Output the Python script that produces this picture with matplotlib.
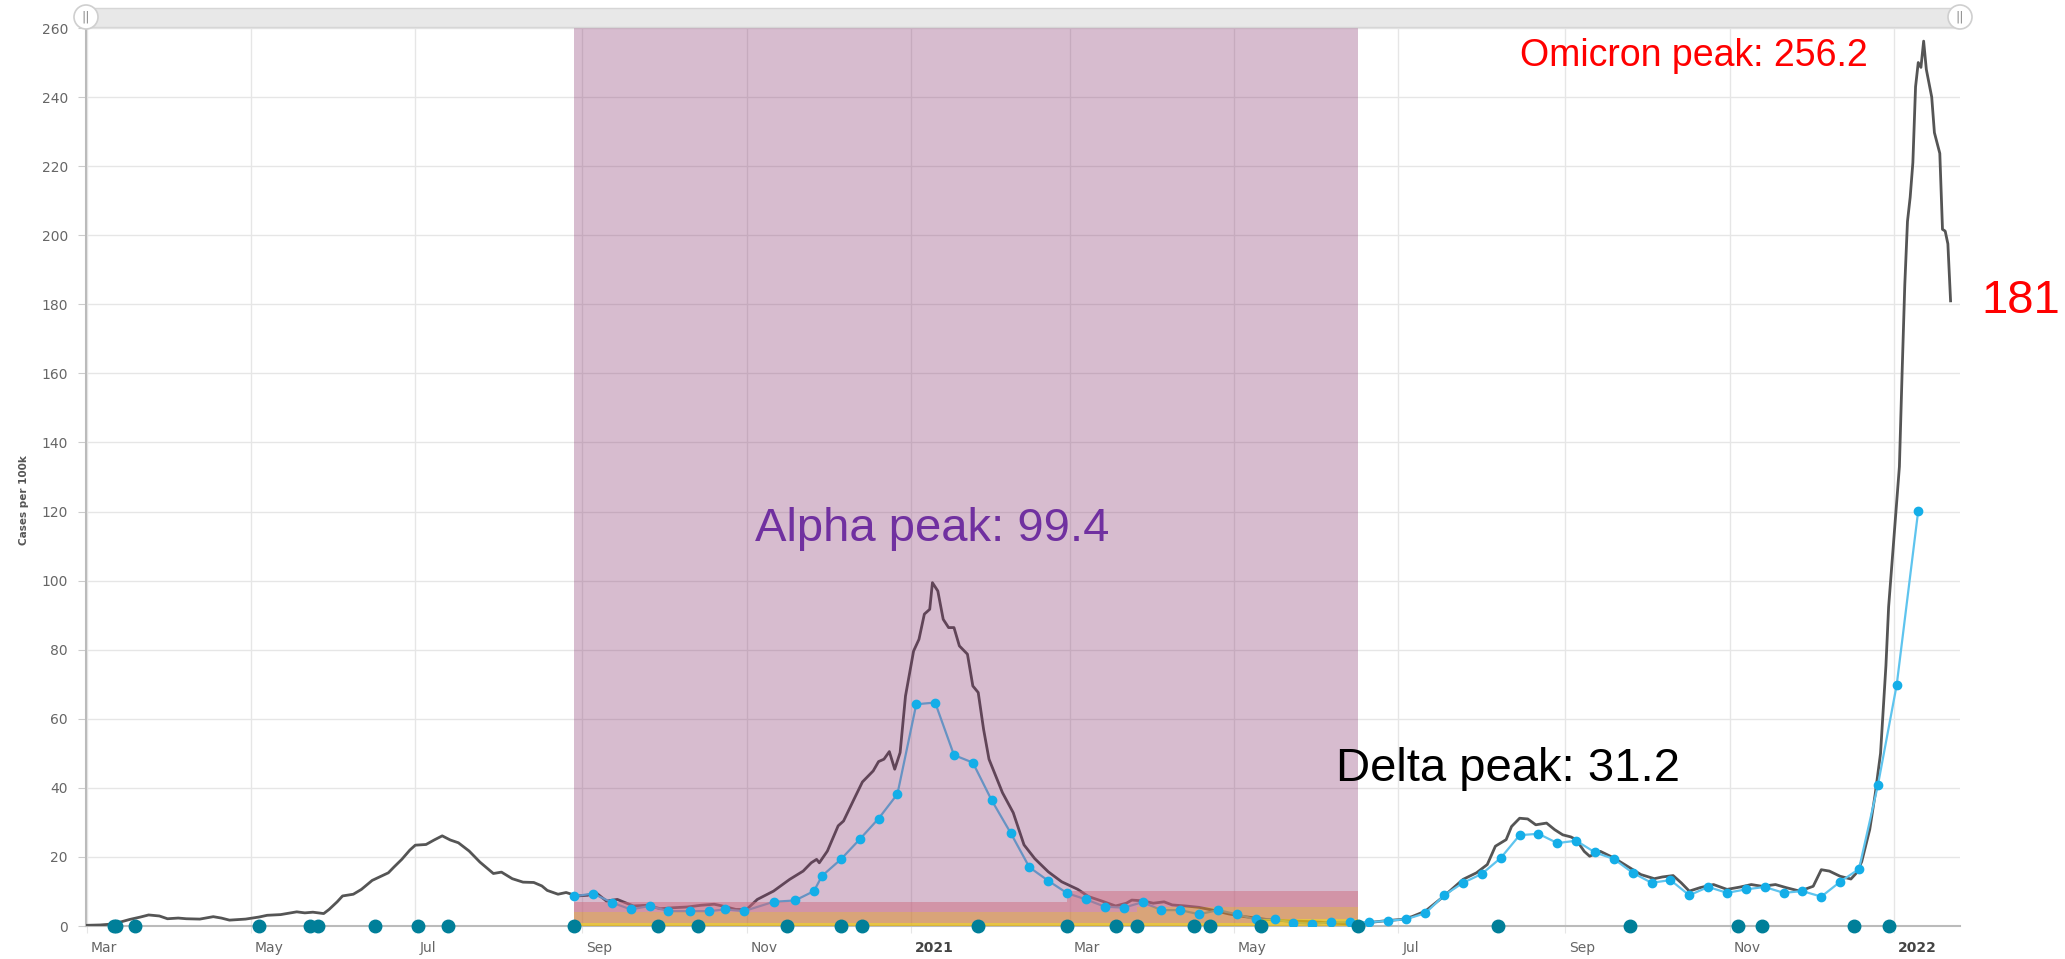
import numpy as np
import matplotlib
matplotlib.use("Agg")
import matplotlib.pyplot as plt
from matplotlib import font_manager
from matplotlib.patches import Rectangle, Circle
from matplotlib.transforms import ScaledTranslation

# day offsets are counted from 1 March 2020
base = np.datetime64("2020-03-01")

# 7-day average cases per 100k (dark line)
case_days = [0, 5, 10, 16, 20, 23, 27, 30, 34, 37, 42, 47, 50, 53, 59, 64, 67, 72, 78, 81,
             84, 88, 90, 93, 95, 99, 102, 106, 109, 112, 114, 117, 120, 122, 126, 129, 132, 135, 138, 142,
             146, 151, 154, 158, 162, 166, 169, 171, 175, 178, 182, 186, 189, 193, 197, 203, 208, 213, 218, 223,
             228, 233, 236, 241, 245, 249, 255, 261, 266, 269, 271, 272, 275, 279, 281, 285, 288, 292, 294, 296,
             298, 300, 302, 304, 307, 309, 311, 313, 314, 316, 318, 320, 322, 324, 327, 329, 331, 333, 335, 338,
             340, 344, 348, 352, 357, 362, 368, 372, 377, 382, 386, 388, 392, 396, 400, 403, 408, 413, 418, 424,
             430, 438, 445, 453, 460, 468, 472, 476, 482, 488, 492, 497, 504, 511, 516, 520, 523, 527, 529, 532,
             535, 538, 542, 545, 548, 551, 553, 556, 558, 562, 567, 572, 577, 582, 585, 589, 592, 595, 599, 604,
             609, 614, 618, 622, 627, 631, 636, 641, 644, 647, 651, 655, 657, 659, 662, 664, 666, 668, 669, 671,
             672, 673, 674, 675, 676, 677, 678, 679, 680, 681, 682, 683, 685, 686, 688, 689, 690, 691, 692]
case_vals = [0.2, 0.3, 0.6, 1.9, 2.6, 3.2, 2.9, 2.1, 2.3, 2.1, 2.0, 2.7, 2.3, 1.7, 2.0, 2.6, 3.1, 3.3, 4.1, 3.8,
             4.0, 3.6, 4.8, 7.0, 8.7, 9.2, 10.6, 13.2, 14.3, 15.4, 17.0, 19.3, 22.0, 23.4, 23.6, 24.9, 26.1, 24.9, 24.1, 21.7,
             18.5, 15.2, 15.6, 13.7, 12.7, 12.6, 11.6, 10.3, 9.2, 9.7, 8.7, 8.9, 9.7, 7.2, 7.7, 5.8, 6.0, 5.0, 5.3, 5.5,
             6.0, 6.3, 5.8, 4.8, 4.8, 7.7, 10.1, 13.5, 15.9, 18.3, 19.3, 18.3, 21.7, 29.0, 30.4, 36.9, 41.7, 44.9, 47.6, 48.3,
             50.5, 45.4, 50.2, 66.6, 79.6, 83.0, 90.3, 91.7, 99.4, 97.0, 88.8, 86.4, 86.4, 81.1, 78.7, 69.5, 67.6, 56.9, 48.3, 42.5,
             38.6, 32.8, 23.5, 19.5, 15.7, 12.8, 10.6, 8.5, 7.2, 5.8, 6.6, 7.5, 7.3, 6.6, 7.0, 6.1, 5.8, 5.4, 4.6, 3.5,
             2.7, 1.9, 1.5, 1.3, 1.0, 0.6, 0.6, 1.0, 1.5, 1.9, 2.7, 4.3, 8.7, 13.5, 15.4, 17.8, 23.1, 25.0, 28.8, 31.2,
             31.0, 29.3, 29.8, 27.9, 26.4, 25.8, 25.0, 21.6, 20.2, 21.6, 19.7, 17.3, 14.9, 13.7, 14.2, 14.6, 12.5, 10.1, 11.1, 12.0,
             10.6, 11.3, 12.0, 11.5, 12.0, 11.1, 10.1, 11.5, 16.3, 15.9, 14.4, 13.6, 15.3, 18.6, 28.0, 38.1, 50.0, 75.4, 92.4, 112.7,
             122.9, 133.0, 160.0, 185.6, 204.0, 211.0, 221.0, 243.0, 250.0, 248.6, 256.2, 248.0, 240.0, 229.7, 223.7, 201.7, 201.2, 197.5, 181.0]

# weekly series (blue line with dots)
week_days = [181, 188, 195, 202, 209, 216, 224, 231, 237, 244, 255, 263, 270, 273, 280, 287, 294, 301, 308, 315,
             322, 329, 336, 343, 350, 357, 364, 371, 378, 385, 392, 399, 406, 413, 420, 427, 434, 441, 448, 455,
             462, 469, 476, 483, 490, 497, 504, 511, 518, 525, 532, 539, 546, 553, 560, 567, 574, 581, 588, 595,
             602, 609, 616, 623, 630, 637, 644, 651, 658, 665, 672, 680]
week_vals = [8.6, 9.4, 6.8, 4.8, 5.8, 4.3, 4.3, 4.3, 4.8, 4.3, 7.0, 7.4, 10.1, 14.5, 19.3, 25.1, 31.1, 38.2, 64.2, 64.7,
             49.5, 47.3, 36.4, 27.0, 17.0, 13.1, 9.5, 7.7, 5.6, 5.3, 6.9, 4.6, 4.6, 3.4, 4.6, 3.4, 1.9, 1.9, 1.0, 0.6,
             1.1, 1.1, 1.1, 1.5, 2.0, 3.7, 8.9, 12.5, 15.1, 19.7, 26.3, 26.7, 24.0, 24.7, 21.3, 19.4, 15.4, 12.5, 13.3, 8.9,
             11.3, 9.6, 10.6, 11.3, 9.6, 10.1, 8.5, 12.8, 16.5, 40.7, 69.8, 120.3]

# event markers on the baseline
event_days = [10, 11, 18, 64, 83, 86, 107, 123, 134, 181, 212, 227, 260, 280, 288, 331, 364, 382, 390, 411,
              417, 436, 472, 524, 573, 613, 622, 656, 669]

# shaded period and threshold bands: day of the step, level before / after it
shade_start, shade_end = 181, 472
pink_step, pink_levels = 364, (7, 10)
orange_step, orange_levels = 390, (4, 5.6)
yellow_step, yellow_levels = 436, (1, 2)


def to_dates(days):
    return base + np.array(days, dtype="timedelta64[D]")


fig = plt.figure(figsize=(20.65, 9.59), dpi=100)
ax = fig.add_axes([86 / 2065, 33 / 959, 1874 / 2065, 898 / 959])

ax.plot(to_dates(case_days), case_vals, color="#555555", lw=2, zorder=3)
ax.plot(to_dates(week_days), week_vals, color="#5ec4ee", lw=1.6, zorder=3)

# purple period on top of the lines
ax.axvspan(to_dates([shade_start])[0], to_dates([shade_end])[0], color="#7d2362", alpha=0.3, lw=0, zorder=4)

# bands on a shared step grid
band_x = [shade_start, pink_step, orange_step, yellow_step, shade_end]


def levels_on_grid(step, levels):
    return np.array([levels[0] if d < step else levels[1] for d in band_x])


pink_y = levels_on_grid(pink_step, pink_levels)
orange_y = levels_on_grid(orange_step, orange_levels)
yellow_y = levels_on_grid(yellow_step, yellow_levels)
bx = to_dates(band_x)
ax.fill_between(bx, orange_y, pink_y, step="post", color="#ce6d80", alpha=0.5, lw=0, zorder=5)
ax.fill_between(bx, yellow_y, orange_y, step="post", color="#dc8d24", alpha=0.5, lw=0, zorder=5)
ax.fill_between(bx, 0, yellow_y, step="post", color="#efc80b", alpha=0.7, lw=0, zorder=5)

ax.plot(to_dates(week_days), week_vals, "o", color="#14aee8", ms=6, zorder=6)
ax.plot(to_dates(event_days), [0] * len(event_days), "o", color="#007f99", ms=9, zorder=7, clip_on=False)

ax.set_xlim(to_dates([0])[0] - np.timedelta64(6, "h"), to_dates([695])[0] + np.timedelta64(12, "h"))
ax.set_ylim(0, 260)
ax.set_yticks(range(0, 261, 20))

ticks = to_dates([0, 61, 122, 184, 245, 306, 365, 426, 487, 549, 610, 671])
labels = ["Mar", "May", "Jul", "Sep", "Nov", "2021", "Mar", "May", "Jul", "Sep", "Nov", "2022"]
ax.set_xticks(ticks)
ax.set_xticklabels(labels)

ax.grid(True, color="#e6e6e6", lw=1)
ax.set_axisbelow(True)
for s in ["top", "right"]:
    ax.spines[s].set_visible(False)
ax.spines["left"].set_color("#bbbbbb")
ax.spines["left"].set_linewidth(1.5)
ax.spines["bottom"].set_color("#bbbbbb")
ax.spines["bottom"].set_linewidth(1.5)
ax.tick_params(axis="y", length=6, color="#cccccc", pad=7, labelsize=10, labelcolor="#666666")
ax.tick_params(axis="x", length=5, color="#e6e6e6", pad=6, labelsize=10, labelcolor="#666666")

offset = ScaledTranslation(4 / 100, 0, fig.dpi_scale_trans)
for lab in ax.get_xticklabels():
    lab.set_horizontalalignment("left")
    lab.set_transform(lab.get_transform() + offset)
    if lab.get_text().startswith("20"):
        lab.set_fontweight("bold")
        lab.set_color("#444444")

fig.text(24 / 2065, 1 - 500 / 959, "Cases per 100k", rotation=90, fontsize=7.5, fontweight="bold",
         color="#555555", ha="center", va="center")

# annotations: a narrow face if there is one, otherwise a smaller regular one
available = {f.name for f in font_manager.fontManager.ttflist}
if "Liberation Sans Narrow" in available:
    face, big, small = ["Liberation Sans Narrow", "DejaVu Sans"], 38, 31
else:
    face, big, small = ["Liberation Sans", "DejaVu Sans"], 34, 27

ax.text(to_dates([248])[0], 115, "Alpha peak: 99.4", fontsize=big, color="#7030a0", family=face,
        ha="left", va="center", zorder=10)
ax.text(to_dates([464])[0], 45.5, "Delta peak: 31.2", fontsize=big, color="black", family=face,
        ha="left", va="center", zorder=10)
ax.text(to_dates([532])[0], 252, "Omicron peak: 256.2", fontsize=small, color="red", family=face,
        ha="left", va="center", zorder=10, clip_on=False)
# last value, kept inside the right edge of the figure
fig.text(2060 / 2065, 1 - (926 - 181 * 898 / 260) / 959, "181", fontsize=big, color="red", family=face,
         ha="right", va="center", zorder=10)

# scrollbar on top, drawn in pixel units
top = fig.add_axes([0, 0, 1, 1])
top.set_xlim(0, 2065)
top.set_ylim(959, 0)
top.axis("off")
top.add_patch(Rectangle((86, 8), 1874, 19, facecolor="#e8e8e8", edgecolor="#d6d6d6", lw=1))
for cx in (86, 1960):
    top.add_patch(Circle((cx, 17), 12, facecolor="white", edgecolor="#cfcfcf", lw=1.2, zorder=3))
    top.text(cx, 17, "||", fontsize=9, color="#888888", ha="center", va="center", zorder=4)

fig.savefig("out.png", dpi=100)
